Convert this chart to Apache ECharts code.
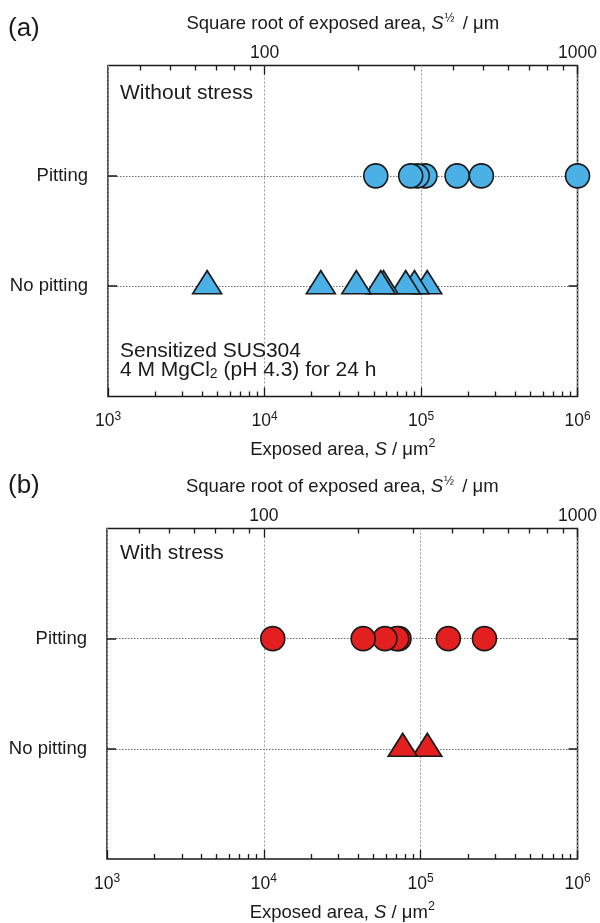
<!DOCTYPE html>
<html><head><meta charset="utf-8">
<script src="https://cdn.jsdelivr.net/npm/echarts@6/dist/echarts.min.js"></script>
<style>html,body{margin:0;padding:0;background:#fff}#c{width:600px;height:923px}</style>
</head><body><div id="c"></div>
<script>
// ---- data (exposed area S, um^2) ----
const categories = ['', 'No pitting', 'Pitting', ' '];
const withoutStressPitting = [1000000, 243000, 170000, 105900, 94600, 85900, 51400];
const withoutStressNoPitting = [109500, 90800, 79800, 57600, 55300, 38600, 22900, 4300];
const withStressPitting = [255000, 150000, 72700, 70300, 59200, 43000, 11400];
const withStressNoPitting = [110200, 76800];
// ---- tick definitions ----
const bottomMinorTicks = [2000,3000,4000,5000,6000,7000,8000,9000,
  20000,30000,40000,50000,60000,70000,80000,90000,
  200000,300000,400000,500000,600000,700000,800000,900000];
const topLabelRoots = [100, 1000];
const topMinorRoots = [40,50,60,70,80,90,200,300,400,500,600,700,800,900];

const FONT = "'Liberation Sans', Arial, Helvetica, sans-serif";
const INK = '#1a1a1a';
const BLUE = '#4AB0E6';
const RED = '#E3201F';
const lg = v => Math.log10(v);
const rootToLog = r => lg(r * r);

const grids = [
  { left: 108, right: 21, top: 65.5, height: 331 },
  { left: 107, right: 22, top: 528.5, height: 330.5 }
];

const xAxes = [], yAxes = [];
grids.forEach((g, i) => {
  xAxes.push({
    gridIndex: i, type: 'log', logBase: 10, min: 1000, max: 1000000, position: 'bottom',
    axisLine: { show: false },
    axisTick: { show: true, inside: true, length: 9, lineStyle: { color: INK, width: 1.3 } },
    axisLabel: {
      margin: 14, color: INK, fontFamily: FONT,
      formatter: v => '{b|10}{s|' + Math.round(lg(v)) + '}',
      rich: {
        b: { fontSize: 17.5, fontFamily: FONT, color: INK, verticalAlign: 'bottom', lineHeight: 20 },
        s: { fontSize: 12, fontFamily: FONT, color: INK, verticalAlign: 'bottom', lineHeight: 20, padding: [0, 0, 8, 0] }
      }
    },
    splitLine: { show: true, lineStyle: { color: '#9a9a9a', type: [2, 2], width: 1 } },
    name: '{t|Exposed area, }{i|S}{t| / μm}{s|2}',
    nameLocation: 'middle', nameGap: 41,
    nameTextStyle: {
      rich: {
        t: { fontSize: 18.5, fontFamily: FONT, color: INK, verticalAlign: 'bottom', lineHeight: 22 },
        i: { fontSize: 18.5, fontFamily: FONT, fontStyle: 'italic', color: INK, verticalAlign: 'bottom', lineHeight: 22 },
        s: { fontSize: 12.5, fontFamily: FONT, color: INK, verticalAlign: 'bottom', lineHeight: 22, padding: [0, 0, 9, 0] }
      }
    }
  });
  xAxes.push({
    gridIndex: i, type: 'value', min: 3, max: 6, interval: 1, position: 'top',
    axisLine: { show: false },
    axisTick: { show: true, inside: true, length: 9, customValues: topLabelRoots.map(rootToLog), lineStyle: { color: INK, width: 1.3 } },
    axisLabel: {
      show: true, margin: 3, fontSize: 17.5, fontFamily: FONT, color: INK,
      customValues: topLabelRoots.map(rootToLog),
      formatter: v => String(Math.round(Math.sqrt(Math.pow(10, v))))
    },
    splitLine: { show: false },
    name: '{t|Square root of exposed area, }{i|S}{s|½}{t| / μm}',
    nameLocation: 'middle', nameGap: 32,
    nameTextStyle: {
      rich: {
        t: { fontSize: 18.5, fontFamily: FONT, color: INK, verticalAlign: 'bottom', lineHeight: 22 },
        i: { fontSize: 18.5, fontFamily: FONT, fontStyle: 'italic', color: INK, verticalAlign: 'bottom', lineHeight: 22 },
        s: { fontSize: 12, fontFamily: FONT, color: INK, verticalAlign: 'bottom', lineHeight: 22, padding: [0, 3, 9, 1] }
      }
    }
  });
  xAxes.push({
    gridIndex: i, type: 'value', min: 3, max: 6, interval: 1, position: 'top',
    axisLine: { show: false }, axisLabel: { show: false }, splitLine: { show: false },
    axisTick: { show: true, inside: true, length: 5, customValues: topMinorRoots.map(rootToLog), lineStyle: { color: INK, width: 1.3 } }
  });
  xAxes.push({
    gridIndex: i, type: 'value', min: 3, max: 6, interval: 1, position: 'bottom',
    axisLine: { show: false }, axisLabel: { show: false }, splitLine: { show: false },
    axisTick: { show: true, inside: true, length: 5, customValues: bottomMinorTicks.map(lg), lineStyle: { color: INK, width: 1.3 } }
  });
  const showCat = (idx, val) => val.trim() !== '';
  yAxes.push({
    gridIndex: i, type: 'category', data: categories, boundaryGap: false, position: 'left',
    axisLine: { show: false },
    axisTick: { show: true, inside: true, length: 9, interval: showCat, lineStyle: { color: INK, width: 1.5 } },
    axisLabel: { show: true, interval: showCat, margin: 20, fontSize: 18.5, fontFamily: FONT, color: INK },
    splitLine: { show: true, interval: showCat, lineStyle: { color: '#707070', type: [1.5, 1.5], width: 1 } }
  });
  yAxes.push({
    gridIndex: i, type: 'category', data: categories, boundaryGap: false, position: 'right',
    axisLine: { show: false }, axisLabel: { show: false }, splitLine: { show: false },
    axisTick: { show: true, inside: true, length: 9, interval: showCat, lineStyle: { color: INK, width: 1.5 } }
  });
});

function scatter(gi, values, cat, shape, color) {
  const isTri = shape === 'triangle';
  return {
    type: 'scatter', xAxisIndex: gi * 4, yAxisIndex: gi * 2,
    data: values.map(v => [v, cat]),
    symbol: shape,
    symbolSize: isTri ? [29, 23] : 24,
    symbolOffset: isTri ? [0, -4] : [0, 0],
    itemStyle: { color: color, borderColor: INK, borderWidth: 1.6, opacity: 1 },
    emphasis: { disabled: true }, silent: true, z: 5
  };
}

const txt = (x, y, text, size, rich) => ({
  type: 'text', x: x, y: y, z: 20,
  style: Object.assign({ text: text, fontSize: size, fontFamily: FONT, fill: INK, verticalAlign: 'middle', align: 'left' }, rich ? { rich: rich } : {})
});

const chart = echarts.init(document.getElementById('c'), null, { renderer: 'canvas' });
chart.setOption({
  animation: false,
  backgroundColor: '#fff',
  grid: grids.map(g => Object.assign({ show: true, borderColor: INK, borderWidth: 1.5, backgroundColor: 'transparent', containLabel: false }, g)),
  xAxis: xAxes,
  yAxis: yAxes,
  series: [
    scatter(0, withoutStressNoPitting, 'No pitting', 'triangle', BLUE),
    scatter(0, withoutStressPitting, 'Pitting', 'circle', BLUE),
    scatter(1, withStressNoPitting, 'No pitting', 'triangle', RED),
    scatter(1, withStressPitting, 'Pitting', 'circle', RED)
  ],
  graphic: [
    txt(8, 29, '(a)', 26),
    txt(8, 486, '(b)', 26),
    txt(120, 93, 'Without stress', 21),
    txt(120, 553, 'With stress', 21),
    txt(120, 351, 'Sensitized SUS304', 21),
    txt(120, 371, '{t|4 M MgCl}{u|2}{t| (pH 4.3) for 24 h}', 21, {
      t: { fontSize: 21, fontFamily: FONT, fill: INK, verticalAlign: 'top', lineHeight: 22 },
      u: { fontSize: 14, fontFamily: FONT, fill: INK, verticalAlign: 'top', lineHeight: 22, padding: [7, 0, 0, 0] }
    })
  ]
});
</script></body></html>
